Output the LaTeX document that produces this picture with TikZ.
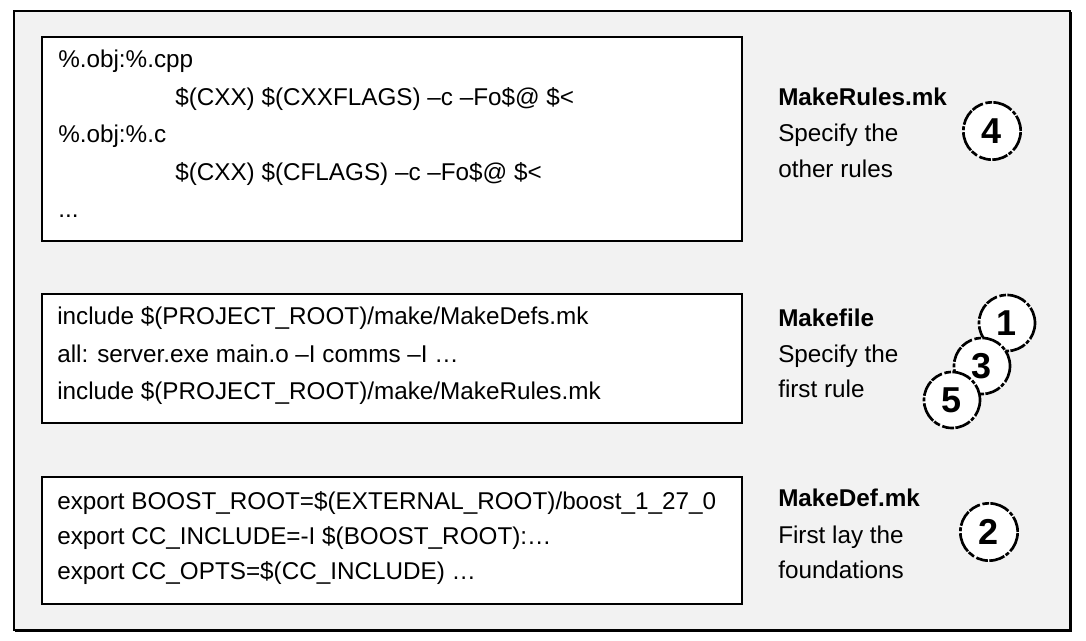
\documentclass[tikz,border=0pt]{standalone}
\usepackage{fontspec}
\setmainfont{Liberation Sans}
\definecolor{bggray}{HTML}{F2F2F2}
\begin{document}
\begin{tikzpicture}[x=0.75pt,y=-0.75pt,
  txt/.style={anchor=base west, inner sep=0pt, font=\fontsize{18.2}{22}\selectfont},
  hd/.style={anchor=base west, inner sep=0pt, font=\fontsize{18.2}{22}\selectfont\bfseries},
  codebox/.style={draw=black, fill=white, line width=1.3pt, anchor=north west, inner sep=0pt, minimum width=525pt},
  coin/.style={circle, fill=white, draw=black, line width=2pt, minimum size=43pt, inner sep=0pt,
    font=\fontsize{27}{30}\selectfont\bfseries,
    dash pattern=on 12pt off 1.2pt on 3pt off 1.5pt on 15pt off 1pt on 5pt off 2pt on 9pt off 1pt}]
\useasboundingbox (0,0) rectangle (1086,641);
\fill[white] (0,0) rectangle (1086,641);
% outer frame
\draw[fill=bggray, line width=1.4pt] (14,11) rectangle (1070,630);
\draw[line width=1.4pt] (1071.5,12) -- (1071.5,631.5) -- (15,631.5);

% code boxes
\node (box1) [codebox, minimum height=153pt] at (41,36) {};
\node (box2) [codebox, minimum height=96.75pt] at (41,293) {};
\node (box3) [codebox, minimum height=95.25pt] at (41,476) {};

% box 1 text
\node (b1a) [txt] at (58,68) {\%.obj:\%.cpp};
\node (b1b) [txt] at (175,105.5) {\$(CXX) \$(CXXFLAGS) –c –Fo\$@ \$<};
\node (b1c) [txt] at (58,143) {\%.obj:\%.c};
\node (b1d) [txt] at (175,180.5) {\$(CXX) \$(CFLAGS) –c –Fo\$@ \$<};
\node (b1e) [txt] at (58,218) {...};

% box 2 text
\node (b2a) [txt] at (57,325) {include \$(PROJECT\_ROOT)/make/MakeDefs.mk};
\node (b2b) [txt] at (57,362.5) {all: server.exe main.o –I comms –I …};
\node (b2c) [txt] at (57,400) {include \$(PROJECT\_ROOT)/make/MakeRules.mk};

% box 3 text
\node (b3a) [txt] at (57,510) {export BOOST\_ROOT=\$(EXTERNAL\_ROOT)/boost\_1\_27\_0};
\node (b3b) [txt] at (57,545) {export CC\_INCLUDE=-I \$(BOOST\_ROOT):…};
\node (b3c) [txt] at (57,580) {export CC\_OPTS=\$(CC\_INCLUDE) …};

% labels
\node (l1a) [hd]  at (778,106) {MakeRules.mk};
\node (l1b) [txt] at (778,142) {Specify the};
\node (l1c) [txt] at (778,178) {other rules};

\node (l2a) [hd]  at (778,327) {Makefile};
\node (l2b) [txt] at (778,362.5) {Specify the};
\node (l2c) [txt] at (778,398) {first rule};

\node (l3a) [hd]  at (778,507) {MakeDef.mk};
\node (l3b) [txt] at (778,543) {First lay the};
\node (l3c) [txt] at (778,579) {foundations};

% numbered coins
\node (c4) [coin] at (992,131) {4};
\node (c1) [coin, minimum size=42pt] at (1007,323) {1};
\node (c3) [coin, minimum size=42pt] at (982,366) {3};
\node (c5) [coin, minimum size=42pt] at (952,400) {5};
\node (c2) [coin] at (989,532) {2};
\end{tikzpicture}
\end{document}
